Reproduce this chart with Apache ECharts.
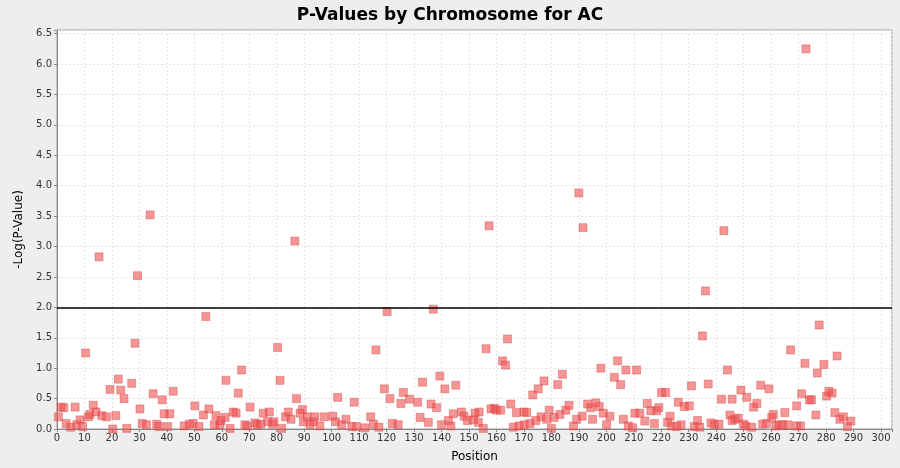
<!DOCTYPE html>
<html>
<head>
<meta charset="utf-8">
<script src="https://cdn.jsdelivr.net/npm/echarts@6/dist/echarts.min.js"></script>
<style>html,body{margin:0;padding:0;background:#eeeeee;}#c{width:900px;height:468px;}</style>
</head>
<body>
<div id="c"></div>
<script>
const chartTitle = "P-Values by Chromosome for AC";
const xName = "Position";
const yName = "-Log(P-Value)";
const threshold = 2.0;
const positions = [0.5,1.5,2.5,3.3,5,6.6,7.2,8.4,9.3,10.4,11.4,12,13.2,14.2,15.3,16.3,18,19.3,20.3,21.4,22.3,23.2,24.4,25.4,27.2,28.4,29.3,30.2,31,32.6,33.9,35,36.3,37.1,38.3,39,40.3,41.1,42.3,46.3,48.2,49.6,50.2,51.7,53.3,54.2,55.3,57.3,57.9,59.3,59.7,61.5,61.2,63,64.2,65.2,66,67.2,68.4,69.3,70.3,72.1,72.9,74.2,75.1,76.7,77.3,78.5,79,80.3,81.2,81.8,83.2,84.2,85.2,86.6,87.2,88.5,89.4,89.7,91.1,92.1,93.3,93.9,95.7,97.3,100.4,101.4,102.2,103.6,105.2,107.3,108.2,109.1,112.1,114.2,115.2,116.1,117.2,119.2,120.2,121.2,122.1,124.2,125.2,126.1,128.3,131.3,132.2,133.1,135.2,136.2,137,138.2,139.4,140,141.2,142.5,143.4,144.3,145.2,147.3,148.2,149.4,151.6,152.2,153.4,153.7,155.2,156.2,157.3,158,159.2,160,161.5,162.2,163.3,164,165.2,166.1,167.3,168.2,170,170.1,171,172.2,173.2,174.3,175.2,176.2,177.3,178.3,179.2,180,181,182.3,183.1,184,185.3,186.4,188,189.2,190,191.2,191.5,193.2,194.3,195,196.2,197.4,198,198.9,200.1,201.3,202.9,204.1,205.2,206.2,207.1,208,209.6,210.4,211,212.2,214,214.9,216.2,217.5,218.3,219.1,220.1,221.6,222.3,223.2,223.7,225.6,226.2,227.2,228.4,230.2,231,232,233.2,234,235,236.1,237.1,238.1,239.3,241,241.9,242.8,244.1,245,245.8,245.8,246.8,248,249,249.9,250.8,251.1,252.9,253.6,254.8,256.2,256.9,258.3,259.2,260.2,260.8,261.7,262.9,264.2,265,266.2,267.1,269.3,269.3,270.7,271.1,272.3,272.7,273.9,274.7,276.3,276.8,277.5,279.2,280.2,281,282.2,283.2,284,285,286.3,287.8,289];
const logP = [0.2,0.36,0.35,0.09,0.03,0.36,0.07,0.15,0.04,1.25,0.2,0.24,0.39,0.28,2.83,0.22,0.2,0.65,0.0,0.22,0.82,0.64,0.5,0.01,0.75,1.41,2.52,0.33,0.09,0.07,3.52,0.58,0.08,0.04,0.48,0.25,0.04,0.25,0.62,0.05,0.08,0.09,0.38,0.04,0.23,1.85,0.33,0.07,0.22,0.07,0.14,0.8,0.19,0.01,0.28,0.26,0.59,0.97,0.07,0.05,0.36,0.1,0.07,0.08,0.26,0.12,0.28,0.08,0.12,1.34,0.8,0.01,0.2,0.28,0.16,3.09,0.5,0.26,0.32,0.12,0.2,0.07,0.12,0.2,0.05,0.2,0.21,0.12,0.52,0.07,0.16,0.04,0.44,0.04,0.02,0.2,0.08,1.3,0.03,0.66,1.93,0.5,0.09,0.07,0.42,0.6,0.49,0.44,0.19,0.77,0.11,0.41,1.97,0.35,0.87,0.07,0.66,0.14,0.05,0.25,0.72,0.28,0.21,0.14,0.15,0.26,0.11,0.28,0.01,1.32,3.34,0.33,0.34,0.31,0.31,1.12,1.05,1.48,0.41,0.03,0.27,0.05,0.28,0.07,0.27,0.09,0.56,0.14,0.66,0.2,0.79,0.16,0.31,0.01,0.19,0.73,0.24,0.9,0.31,0.39,0.05,0.16,3.88,0.21,3.31,0.41,0.35,0.16,0.43,0.37,1.0,0.26,0.07,0.21,0.85,1.12,0.73,0.16,0.97,0.05,0.02,0.26,0.97,0.26,0.13,0.42,0.3,0.09,0.3,0.35,0.6,0.6,0.11,0.21,0.05,0.04,0.44,0.07,0.37,0.38,0.71,0.04,0.14,0.03,1.53,2.27,0.74,0.1,0.07,0.08,0.49,3.26,0.97,0.23,0.49,0.14,0.16,0.18,0.64,0.08,0.05,0.52,0.03,0.36,0.42,0.72,0.08,0.09,0.66,0.19,0.24,0.05,0.07,0.07,0.27,0.07,1.3,0.38,0.05,0.05,0.58,1.08,6.25,0.48,0.48,0.23,0.92,1.71,1.06,0.54,0.62,0.59,0.27,1.2,0.16,0.2,0.04,0.13];

const data = positions.map((p, i) => [p, logP[i]]);
const chart = echarts.init(document.getElementById('c'), null, {renderer: 'canvas'});
const labelFont = {fontFamily: 'DejaVu Sans', fontSize: 10, color: '#333'};
chart.setOption({
  backgroundColor: '#eeeeee',
  animation: false,
  title: {
    text: chartTitle, left: 'center', top: 2,
    textStyle: {fontFamily: 'DejaVu Sans', fontSize: 17, fontWeight: 'bold', color: '#000'}
  },
  grid: {left: 57, right: 8, top: 30, bottom: 39, show: true, backgroundColor: '#ffffff', borderColor: '#a0a0a0', borderWidth: 1},
  xAxis: {
    type: 'value', min: 0, max: 304, interval: 10,
    name: xName, nameLocation: 'middle', nameGap: 22,
    nameTextStyle: {fontFamily: 'DejaVu Sans', fontSize: 12, color: '#000'},
    axisLine: {show: true, onZero: false, lineStyle: {color: '#888', width: 1}},
    axisTick: {show: true, length: 3, lineStyle: {color: '#888'}},
    axisLabel: Object.assign({margin: 4, formatter: v => (Math.abs(v % 10) < 1e-6 ? String(v) : '')}, labelFont),
    splitLine: {show: true, lineStyle: {color: '#e4e4e4', type: [2, 2], width: 1}}
  },
  yAxis: {
    type: 'value', min: 0, max: 6.56, interval: 0.5,
    name: yName, nameLocation: 'middle', nameGap: 31, nameRotate: 90,
    nameTextStyle: {fontFamily: 'DejaVu Sans', fontSize: 12, color: '#000'},
    axisLine: {show: true, lineStyle: {color: '#888', width: 1}},
    axisTick: {show: true, length: 3, lineStyle: {color: '#888'}},
    axisLabel: Object.assign({margin: 5, formatter: v => (Math.abs((v * 2) % 1) < 1e-6 ? v.toFixed(1) : '')}, labelFont),
    splitLine: {show: true, lineStyle: {color: '#e4e4e4', type: [2, 2], width: 1}}
  },
  series: [{
    type: 'scatter',
    data: data,
    symbol: 'rect',
    symbolSize: 8,
    itemStyle: {color: 'rgba(238,80,80,0.75)', borderColor: 'rgba(215,60,60,0.8)', borderWidth: 0.6},
    markLine: {
      silent: true, symbol: 'none', label: {show: false},
      lineStyle: {color: '#000', width: 1.5, type: 'solid'},
      data: [{yAxis: threshold}]
    }
  }]
});
</script>
</body>
</html>
